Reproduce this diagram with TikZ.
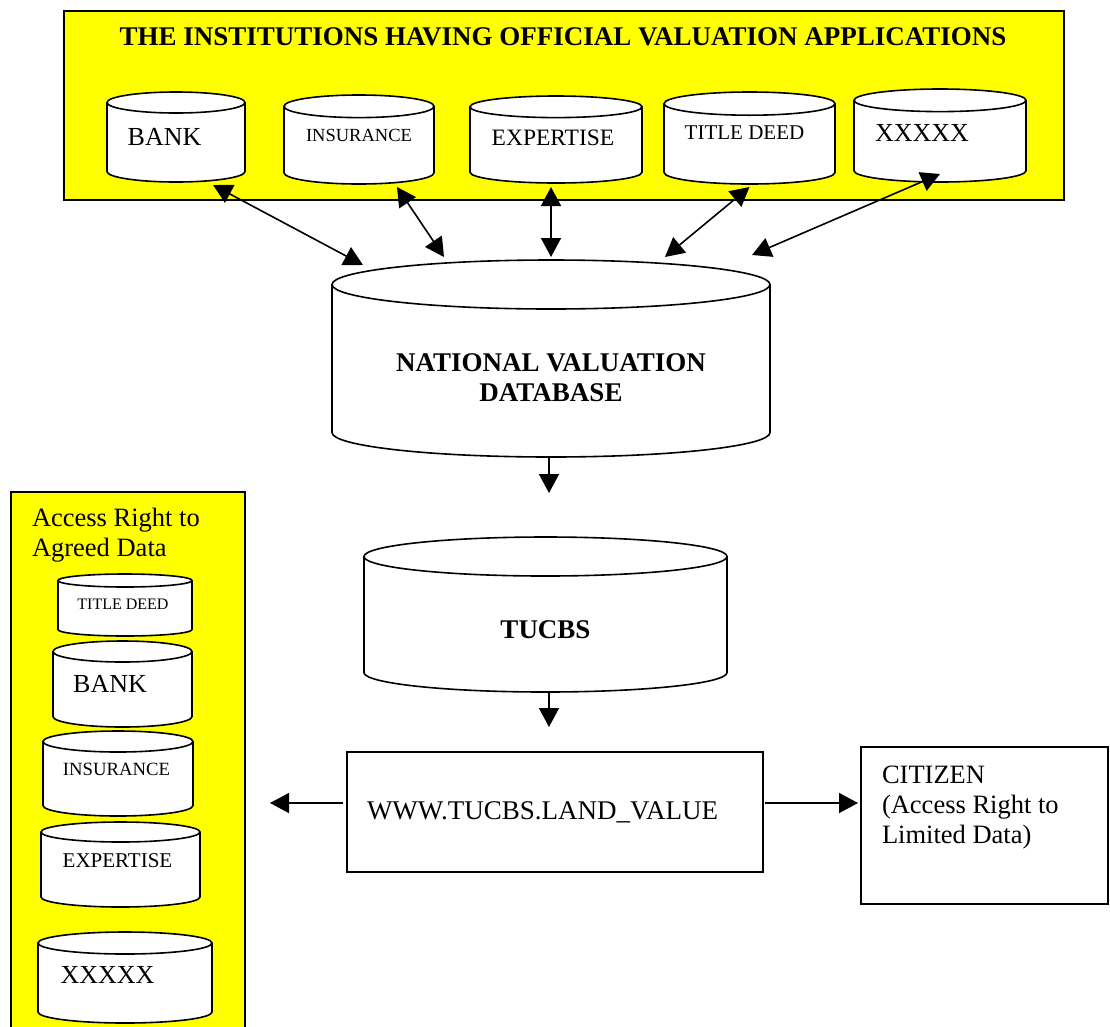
\documentclass[tikz,border=0pt]{standalone}
\usepackage{fontspec}
\setmainfont{Liberation Serif}
\usetikzlibrary{arrows.meta,positioning,calc}
\definecolor{panelYellow}{HTML}{FFFF00}

\begin{document}
\begin{tikzpicture}[x=1pt,y=-1pt,line width=1.6pt,
  every node/.style={inner sep=0pt,outer sep=0pt},
  panel/.style={rectangle,draw,fill=panelYellow,anchor=north west},
  db/.style={rectangle,anchor=north},
  lbl/.style={font=\fontsize{#1}{30}\selectfont},
  head/.style={font=\fontsize{27}{30}\selectfont\bfseries},
  tip/.style={-{Triangle[length=19pt,width=20pt]}},
  bitip/.style={{Triangle[length=19pt,width=20pt]}-{Triangle[length=19pt,width=20pt]}}]
  \useasboundingbox (0,0) rectangle (1110,1026);
  % yellow panels
  \node[panel,minimum width=1000,minimum height=189] (inst) at (64,11) {};
  \node[head] (insttitle) at (563,37) {THE INSTITUTIONS HAVING OFFICIAL VALUATION APPLICATIONS};
  \node[panel,minimum width=234,minimum height=545] (access) at (11,492) {};
  \node[lbl=26.5,align=left,anchor=north west] (accesstxt) at (32,508) {Access Right to\\Agreed Data};
  % database places
  \node[db,minimum width=138,minimum height=90] (bnk) at (176,92) {};
  \node[db,minimum width=150,minimum height=89] (ins) at (359,95) {};
  \node[db,minimum width=172,minimum height=87] (exp) at (556,96) {};
  \node[db,minimum width=171,minimum height=92] (ttl) at (749.5,92) {};
  \node[db,minimum width=172,minimum height=93] (xxx) at (940,89) {};
  \node[db,minimum width=438,minimum height=197] (nvdb) at (551,260) {};
  \node[db,minimum width=363,minimum height=155] (tucbs) at (545.5,537) {};
  \node[db,minimum width=134,minimum height=62] (lttl) at (125,574) {};
  \node[db,minimum width=139,minimum height=86] (lbnk) at (122.5,641) {};
  \node[db,minimum width=150,minimum height=85] (lins) at (118,731) {};
  \node[db,minimum width=159,minimum height=85] (lexp) at (120.5,822) {};
  \node[db,minimum width=174,minimum height=91] (lxxx) at (125,932) {};
  % cylinder outlines
  \foreach \c/\ry in {bnk/10.5,ins/11.3,exp/10.8,ttl/11.6,xxx/11.3,nvdb/24.5,tucbs/19.5,
      lttl/6.5,lbnk/10.5,lins/10.5,lexp/10,lxxx/11}
    \draw[fill=white] let \p1=(\c.north west), \p2=(\c.south east), \n1={(\x2-\x1)/2} in
      (\x1,\y1-\ry pt) -- (\x1,\y2+\ry pt) arc[start angle=180,end angle=360,x radius=\n1,y radius=\ry pt]
      -- (\x2,\y1-\ry pt) arc[start angle=0,end angle=180,x radius=\n1,y radius=\ry pt] -- cycle
      (\x1,\y1-\ry pt) arc[start angle=180,end angle=360,x radius=\n1,y radius=\ry pt];
  % cylinder texts
  \node[lbl=26] (bnktxt) at ([shift={(-11.5,0)}]bnk.center) {BANK};
  \node[lbl=18.5] (instxt) at ([shift={(0,-4.5)}]ins.center) {INSURANCE};
  \node[lbl=23.5] (exptxt) at ([shift={(-3,-1.5)}]exp.center) {EXPERTISE};
  \node[lbl=21] (ttltxt) at ([shift={(-5,-5)}]ttl.center) {TITLE DEED};
  \node[lbl=26] (xxxtxt) at ([shift={(-18,-2.5)}]xxx.center) {XXXXX};
  \node[head,align=center] (nvdbtxt) at ([shift={(0,19)}]nvdb.center) {NATIONAL VALUATION\\DATABASE};
  \node[head] (tucbstxt) at ([shift={(0,15.5)}]tucbs.center) {TUCBS};
  \node[lbl=16] (lttltxt) at ([shift={(-2,-1)}]lttl.center) {TITLE DEED};
  \node[lbl=26] (lbnktxt) at ([shift={(-12.5,0)}]lbnk.center) {BANK};
  \node[lbl=18.7] (linstxt) at ([shift={(-1.5,-4.5)}]lins.center) {INSURANCE};
  \node[lbl=21] (lexptxt) at ([shift={(-3,-3.5)}]lexp.center) {EXPERTISE};
  \node[lbl=26] (lxxxtxt) at ([shift={(-17.5,-2.5)}]lxxx.center) {XXXXX};
  % web site and citizen
  \node[draw,anchor=north west,minimum width=416,minimum height=120,text width=376,
    inner xsep=20pt,align=left,lbl=27] (web) at (347,752) {WWW.TUCBS.LAND\_VALUE};
  \node[draw,anchor=north west,minimum width=247,minimum height=157] (citizen) at (861,747) {};
  \node[lbl=26.5,align=left,anchor=north west] (citizentxt) at ([shift={(21,19)}]citizen.north west)
    {CITIZEN\\(Access Right to\\Limited Data)};
  % connectors
  \foreach \n/\up/\lo in {bnk/{(37,3)}/{(-188,5)},ins/{(38,3)}/{(-107,-3)},
      exp/{(-5,4)}/{(0,-3)},ttl/{(0,3)}/{(114,-3)},xxx/{(0,-8)}/{(201,-5)}}
    \draw[bitip] ([shift={\up}]\n.south) -- ([shift={\lo}]nvdb.north);
  \coordinate (dbgap) at (549,493);
  \coordinate (tucgap) at (549,727);
  \coordinate (leftend) at (270,803);
  \draw[tip] (nvdb.south -| dbgap) -- (dbgap);
  \draw[tip] (tucbs.south -| tucgap) -- (tucgap);
  \draw[tip,shorten <=4pt] (web.west |- leftend) -- (leftend);
  \draw[tip,shorten <=2pt,shorten >=3pt] (web.east |- leftend) -- (citizen.west |- leftend);
\end{tikzpicture}
\end{document}
